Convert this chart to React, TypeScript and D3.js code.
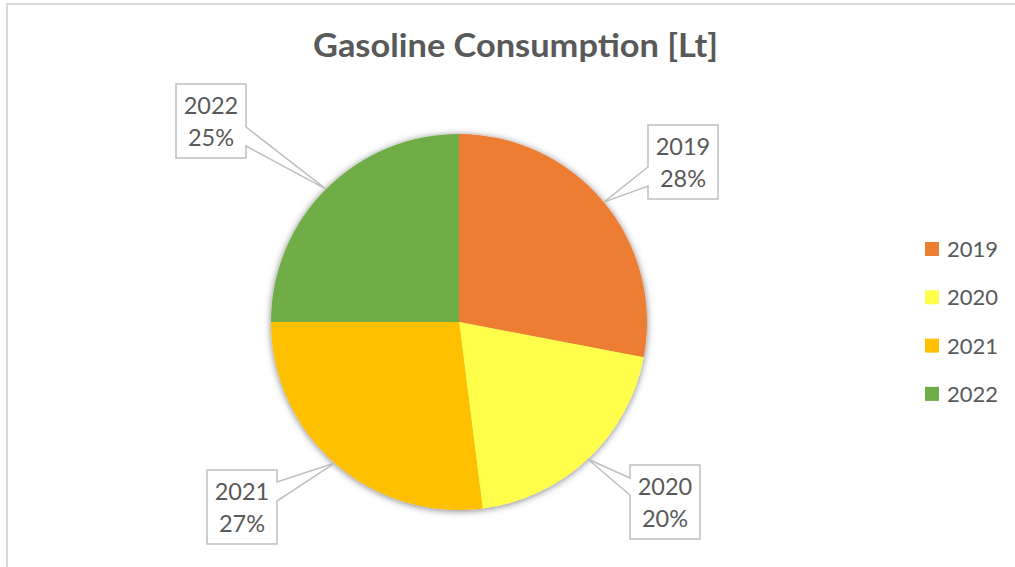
import React from "react";
import * as d3 from "d3";

const categories = ["2019", "2020", "2021", "2022"];
const shares = [28, 20, 27, 25];
const colors = ["#ED7D31", "#FFFF4B", "#FFC000", "#70AD47"];
const title = "Gasoline Consumption [Lt]";

const W = 1015;
const H = 567;
const cx = 459;
const cy = 322;
const R = 188;

// callout boxes: [x0, y0, x1, y1, side, baseY0, baseY1]
const boxes: Array<[number, number, number, number, "L" | "R", number, number]> = [
  [648, 125, 718, 199, "L", 167, 186],
  [630, 465, 700, 539, "L", 478, 495],
  [207, 470, 277, 544, "R", 482, 501],
  [176, 84, 246, 158, "R", 127, 146],
];

const FONT = "Lato, 'Open Sans', sans-serif";
const TXT = "#595959";

export default function App() {
  const pie = d3.pie<number>().sort(null).value((d) => d);
  const arcs = pie(shares);
  const arc = d3.arc<d3.PieArcDatum<number>>().innerRadius(0).outerRadius(R);
  const total = d3.sum(shares);

  return (
    <div style={{ position: "fixed", left: 0, top: 0 }}>
      <svg width={W} height={H} style={{ display: "block", background: "#fff" }}>
        <defs>
          <filter id="sh" x="-20%" y="-20%" width="140%" height="140%">
            <feDropShadow dx="0" dy="1" stdDeviation="3.5" floodColor="#000" floodOpacity="0.5" />
          </filter>
        </defs>
        <rect x={7} y={4} width={W + 20} height={H + 20} fill="#fff" stroke="#D9D9D9" strokeWidth={2} />
        <text
          x={515.5}
          y={57}
          textAnchor="middle"
          fontFamily={FONT}
          fontWeight={700}
          fontSize={33}
          fill={TXT}
          textLength={405}
          lengthAdjust="spacingAndGlyphs"
        >
          {title}
        </text>
        <g transform={`translate(${cx},${cy})`} filter="url(#sh)">
          {arcs.map((a, i) => (
            <path key={i} d={arc(a) || ""} fill={colors[i]} />
          ))}
        </g>
        {arcs.map((a, i) => {
          const mid = (a.startAngle + a.endAngle) / 2;
          const tx = cx + R * Math.sin(mid);
          const ty = cy - R * Math.cos(mid);
          const [x0, y0, x1, y1, side, b0, b1] = boxes[i];
          let d = "";
          if (side === "L") {
            d = `M${x0},${y0}H${x1}V${y1}H${x0}V${b1}L${tx},${ty}L${x0},${b0}Z`;
          } else {
            d = `M${x0},${y0}H${x1}V${b0}L${tx},${ty}L${x1},${b1}V${y1}H${x0}Z`;
          }
          const mx = (x0 + x1) / 2;
          const pct = Math.round((shares[i] / total) * 100) + "%";
          return (
            <g key={i}>
              <path d={d} fill="#fff" stroke="#BFBFBF" strokeWidth={1.5} />
              <text x={mx} y={y0 + 30} textAnchor="middle" fontFamily={FONT} fontSize={23.5} fill={TXT}>
                {categories[i]}
              </text>
              <text x={mx} y={y0 + 62} textAnchor="middle" fontFamily={FONT} fontSize={23.5} fill={TXT}>
                {pct}
              </text>
            </g>
          );
        })}
        {categories.map((c, i) => (
          <g key={c} transform={`translate(925,${242 + i * 48.3})`}>
            <rect x={0} y={0} width={14} height={14} fill={colors[i]} />
            <text x={22} y={15} fontFamily={FONT} fontSize={22} fill={TXT}>
              {c}
            </text>
          </g>
        ))}
      </svg>
    </div>
  );
}
